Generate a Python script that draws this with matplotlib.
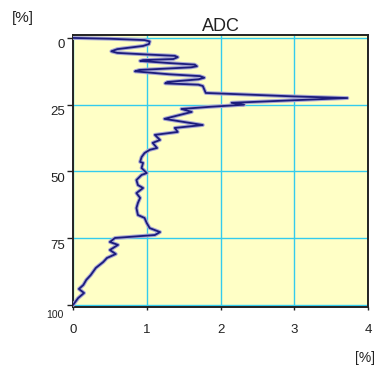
import numpy as np
import matplotlib
matplotlib.use('Agg')
import matplotlib.pyplot as plt
from matplotlib.transforms import ScaledTranslation

plt.rcParams['font.family'] = ['Liberation Sans', 'DejaVu Sans']

# ADC profile: value [%] against depth [%]
adc = [0.00, 0.50, 0.97, 1.04, 1.03, 0.95, 0.60, 0.52, 0.60, 1.00, 1.38, 1.42,
       1.36, 0.95, 0.91, 1.30, 1.65, 1.68, 1.60, 0.90, 0.84, 1.30, 1.72, 1.78,
       1.70, 1.28, 1.25, 1.70, 1.76, 1.80, 3.00, 3.72, 2.15, 2.32, 1.85, 1.47,
       1.61, 1.24, 1.76, 1.38, 1.42, 1.11, 1.18, 1.08, 1.14, 1.04, 0.97, 0.93,
       0.91, 0.95, 0.93, 1.00, 0.93, 0.86, 0.88, 0.95, 0.86, 0.91, 0.88, 0.86,
       0.88, 0.97, 1.00, 1.04, 1.18, 1.11, 0.57, 0.50, 0.61, 0.50, 0.58, 0.46,
       0.41, 0.31, 0.24, 0.18, 0.14, 0.08, 0.15, 0.07, 0.00]
depth = [0.0, 0.3, 0.8, 1.3, 2.3, 3.0, 4.2, 5.0, 5.6, 6.2, 6.7, 7.2,
         7.9, 8.3, 8.6, 9.4, 10.0, 10.6, 11.0, 12.0, 12.5, 13.6, 14.3, 14.9,
         15.5, 16.5, 17.0, 17.5, 18.0, 20.6, 21.9, 22.5, 24.3, 25.0, 25.8, 26.6,
         27.7, 30.3, 32.6, 33.7, 35.2, 36.3, 38.2, 39.3, 41.2, 41.9, 43.1, 44.6,
         46.4, 46.8, 48.7, 50.6, 51.3, 53.2, 55.1, 56.2, 58.1, 59.9, 61.8, 63.7,
         66.3, 67.4, 69.3, 71.2, 72.7, 73.8, 74.9, 76.4, 77.5, 79.4, 80.9, 82.4,
         83.9, 86.1, 88.8, 90.6, 92.5, 94.0, 95.5, 97.4, 100.0]

xticks = [0, 1, 2, 3, 4]
yticks = [0, 25, 50, 75, 100]

fig = plt.figure(figsize=(3.76, 3.69), dpi=100)
ax = fig.add_axes([73 / 376, 62 / 369, 295 / 376, 272 / 369])
ax.set_facecolor('#FFFFC6')

ax.plot(adc, depth, color='#A8A8D4', lw=2.8, solid_joinstyle='round',
        solid_capstyle='round', zorder=3)
ax.plot(adc, depth, color='#1C1C7C', lw=1.3, solid_joinstyle='round',
        solid_capstyle='round', zorder=4)

ax.set_xlim(0, 4)
ax.set_ylim(100.75, -1.1)
ax.set_xticks(xticks)
ax.set_yticks(yticks)
ax.set_xticklabels([str(v) for v in xticks])
ax.set_yticklabels(['0', '25', '50', '75', '100'])
ax.grid(True, color='#33CCEE', lw=1.0, zorder=1)
ax.set_axisbelow(True)

ax.tick_params(axis='y', direction='out', length=4, width=1, pad=2,
               labelsize=9.5, colors='#222222')
ax.tick_params(axis='x', direction='out', length=2, width=1, pad=10,
               labelsize=9.5, colors='#222222')

# y labels sit slightly below their gridlines
for lab in ax.get_yticklabels():
    lab.set_transform(lab.get_transform() + ScaledTranslation(0, -6 / 100, fig.dpi_scale_trans))
last = ax.get_yticklabels()[-1]
last.set_fontsize(7.5)
last.set_transform(last.get_transform() + ScaledTranslation(-1 / 100, -3 / 100, fig.dpi_scale_trans))

for side in ['left', 'bottom', 'top', 'right']:
    ax.spines[side].set_color('#222222')
    ax.spines[side].set_linewidth(1.4)

ax.set_title('ADC', fontsize=13, pad=3, color='#222222')
fig.text(23 / 376, 1 - 18 / 369, '[%]', fontsize=11, ha='center', va='center', color='#222222')
fig.text(365 / 376, 1 - 358 / 369, '[%]', fontsize=10, ha='center', va='center', color='#222222')

fig.savefig('out.png', dpi=100, facecolor='white')
